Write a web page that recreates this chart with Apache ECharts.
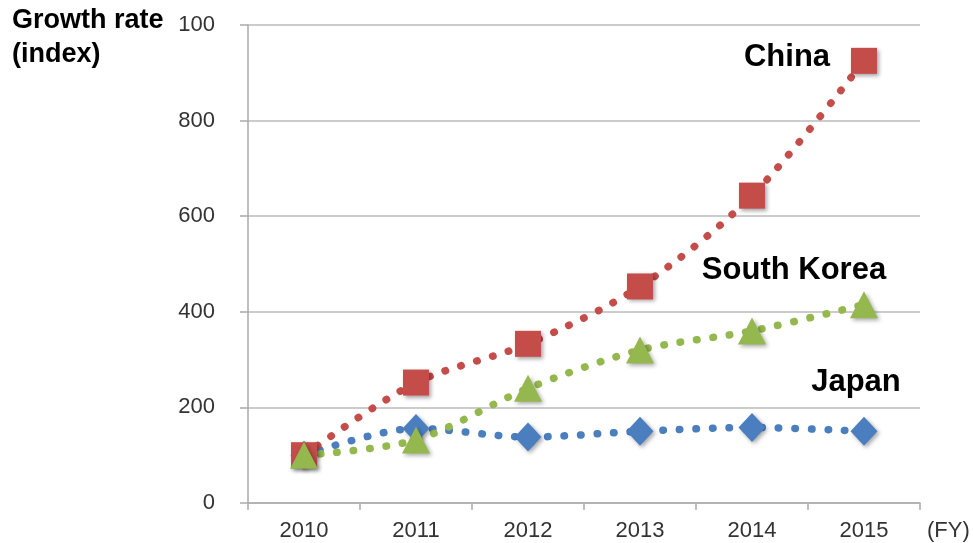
<!DOCTYPE html>
<html>
<head>
<meta charset="utf-8">
<style>
  html, body { margin: 0; padding: 0; background: #fff; }
  #chart { width: 973px; height: 543px; }
</style>
<script src="https://cdn.jsdelivr.net/npm/echarts@6/dist/echarts.min.js"></script>
</head>
<body>
<div id="chart"></div>
<script>
// 年度
const years = ["2010", "2011", "2012", "2013", "2014", "2015"];
// 各国の成長率（指数）
const japanValues = [100, 156, 138, 150, 158, 150];
const chinaValues = [100, 252, 333, 453, 643, 925];
const koreaValues = [100, 132, 240, 320, 360, 415];
const yTicks = [0, 200, 400, 600, 800, 1000];
// 目盛ラベル（元の図では最上段が「100」と表示されている）
const yTickLabels = ["0", "200", "400", "600", "800", "100"];

const chart = echarts.init(document.getElementById("chart"));

const font = "Liberation Sans, Arial, sans-serif";
const shadow = {
  shadowBlur: 4,
  shadowOffsetX: 2,
  shadowOffsetY: 2,
  shadowColor: "rgba(0,0,0,0.35)",
};

// 点線の共通設定
function dotted(color) {
  return { color: color, width: 7.5, type: [0.5, 16], cap: "round" };
}

function nameLabel(text, offset) {
  return {
    show: true,
    formatter: text,
    position: "inside",
    offset: offset,
    color: "#000",
    fontFamily: font,
    fontWeight: "bold",
    fontSize: 31,
  };
}

function withLabel(values, text, offset) {
  return values.map((v, i) =>
    i === values.length - 1 ? { value: v, label: nameLabel(text, offset) } : v
  );
}

const option = {
  animation: false,
  title: {
    text: "Growth rate\n(index)",
    left: 12,
    top: 4,
    padding: 0,
    textStyle: {
      fontFamily: font,
      fontWeight: "bold",
      fontSize: 27,
      lineHeight: 34,
      color: "#000",
    },
  },
  grid: { left: 248, right: 53, top: 25, bottom: 40, containLabel: false },
  xAxis: {
    type: "category",
    data: years,
    boundaryGap: true,
    name: "(FY)",
    nameLocation: "end",
    nameGap: 7,
    nameTextStyle: {
      fontFamily: font,
      fontSize: 22,
      color: "#333",
      verticalAlign: "top",
      padding: [17, 0, 0, 0],
    },
    axisLine: { lineStyle: { color: "#aaa", width: 1.5 } },
    axisTick: { show: true, length: 7, alignWithLabel: false, lineStyle: { color: "#aaa", width: 1.5 } },
    axisLabel: { fontFamily: font, fontSize: 22, color: "#333", margin: 17 },
  },
  yAxis: {
    type: "value",
    min: yTicks[0],
    max: yTicks[yTicks.length - 1],
    interval: 200,
    axisLine: { show: true, lineStyle: { color: "#aaa", width: 1.5 } },
    axisTick: { show: true, length: 8, lineStyle: { color: "#aaa", width: 1.5 } },
    axisLabel: {
      fontFamily: font,
      fontSize: 22,
      color: "#333",
      margin: 33,
      formatter: (v) => yTickLabels[yTicks.indexOf(v)],
    },
    splitLine: { lineStyle: { color: "#bbb", width: 1.5 } },
  },
  series: [
    {
      name: "Japan",
      type: "line",
      smooth: 0.3,
      data: withLabel(japanValues, "Japan", [-8, -49]),
      symbol: "diamond",
      symbolSize: [27, 29],
      lineStyle: dotted("#4a7ebf"),
      itemStyle: Object.assign({ color: "#4a7ebf" }, shadow),
    },
    {
      name: "China",
      type: "line",
      smooth: 0.3,
      data: withLabel(chinaValues, "China", [-77, -3]),
      symbol: "rect",
      symbolSize: 26,
      lineStyle: dotted("#c44d4a"),
      itemStyle: Object.assign({ color: "#c44d4a" }, shadow),
    },
    {
      name: "South Korea",
      type: "line",
      smooth: 0.3,
      data: withLabel(koreaValues, "South Korea", [-70, -34]),
      symbol: "triangle",
      symbolSize: [28, 27],
      lineStyle: dotted("#94b84e"),
      itemStyle: Object.assign({ color: "#94b84e" }, shadow),
    },
  ],
};

chart.setOption(option);
</script>
</body>
</html>
